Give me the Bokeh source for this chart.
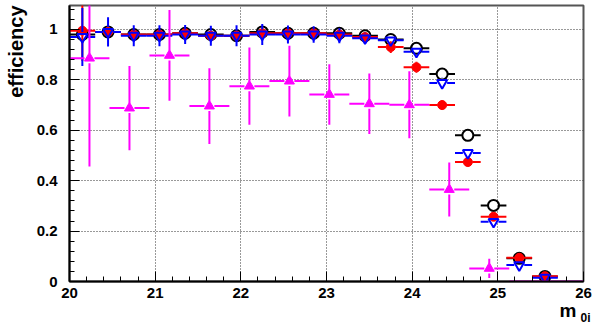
from bokeh.plotting import figure
from bokeh.models import FixedTicker, Range1d, Title
from bokeh.embed import file_html
from bokeh.resources import INLINE

# ---------------- data ----------------
bin_centers = [20.15, 20.45, 20.75, 21.05, 21.35, 21.65, 21.95, 22.25, 22.55, 22.85,
               23.15, 23.45, 23.75, 24.05, 24.35, 24.65, 24.95, 25.25, 25.55]
bin_half = 0.15

black_eff = [0.98, 0.99, 0.98, 0.98, 0.985, 0.98, 0.975, 0.99, 0.985, 0.985,
             0.985, 0.975, 0.96, 0.925, 0.823, 0.58, 0.302, 0.092, 0.02]
black_err = [0.03, 0.015, 0.012, 0.012, 0.012, 0.012, 0.012, 0.012, 0.012, 0.012,
             0.012, 0.012, 0.012, 0.012, 0.015, 0.015, 0.015, 0.01, 0.005]

red_eff = [0.995, 0.99, 0.98, 0.98, 0.985, 0.975, 0.975, 0.985, 0.985, 0.985,
           0.98, 0.97, 0.93, 0.85, 0.70, 0.474, 0.257, 0.094, 0.021]
red_err = [0.12, 0.03, 0.02, 0.02, 0.02, 0.02, 0.02, 0.02, 0.02, 0.02,
           0.02, 0.02, 0.023, 0.022, 0.02, 0.02, 0.015, 0.01, 0.005]

blue_eff = [0.97, 0.99, 0.975, 0.975, 0.98, 0.975, 0.975, 0.98, 0.98, 0.98,
            0.975, 0.965, 0.957, 0.912, 0.788, 0.51, 0.237, 0.065, 0.015]
blue_err = [0.115, 0.058, 0.042, 0.042, 0.038, 0.04, 0.042, 0.042, 0.036, 0.033,
            0.03, 0.022, 0.02, 0.018, 0.02, 0.02, 0.015, 0.01, 0.006]

mag_centers = [20.233, 20.70, 21.167, 21.633, 22.10, 22.567, 23.033, 23.50,
               23.967, 24.433, 24.90, 25.367, 25.833]
mag_half = 0.2333
mag_eff = [0.886, 0.688, 0.897, 0.696, 0.775, 0.795, 0.742, 0.705, 0.701, 0.365, 0.052, 0.0, 0.0]
mag_err = [0.43, 0.167, 0.18, 0.15, 0.153, 0.14, 0.12, 0.12, 0.133, 0.107, 0.038, 0.0, 0.0]

x_ticks = [20, 21, 22, 23, 24, 25, 26]
y_ticks = [0, 0.2, 0.4, 0.6, 0.8, 1.0]
y_tick_labels = ["0", "0.2", "0.4", "0.6", "0.8", "1"]

# ---------------- layout ----------------
W, H = 592, 326
BL, BR, BT, BB = 66, 9, 5, 45
X0, X1 = 20, 26
Y0, Y1 = 0, 1.095
px_x = (W - BL - BR) / (X1 - X0)
px_y = (H - BT - BB) / (Y1 - Y0)

p = figure(width=W, height=H, output_backend="svg", toolbar_location=None,
           x_range=Range1d(X0, X1), y_range=Range1d(Y0, Y1),
           min_border_left=BL, min_border_right=BR, min_border_top=BT, min_border_bottom=BB)
p.background_fill_color = "white"
p.border_fill_color = "white"
p.outline_line_color = "#555555"
p.outline_line_width = 2

FONT = "Liberation Sans"

for ax in (p.xaxis[0], p.yaxis[0]):
    ax.axis_line_color = "black"
    ax.axis_line_width = 2
    ax.major_tick_line_color = "black"
    ax.minor_tick_line_color = "black"
    ax.major_tick_line_width = 1
    ax.minor_tick_line_width = 1
    ax.major_tick_in = 10
    ax.major_tick_out = 0
    ax.minor_tick_in = 5
    ax.minor_tick_out = 0
    ax.major_label_text_font = FONT
    ax.major_label_text_font_style = "bold"
    ax.major_label_text_font_size = "15px"
    ax.major_label_text_color = "black"

p.xaxis.ticker = FixedTicker(ticks=x_ticks,
                             minor_ticks=[X0 + 0.2 * i for i in range(31)])
p.yaxis.ticker = FixedTicker(ticks=y_ticks,
                             minor_ticks=[0.04 * i for i in range(28)])
p.yaxis.major_label_overrides = {t: s for t, s in zip(y_ticks, y_tick_labels)}
p.xaxis.major_label_standoff = 6
p.yaxis.major_label_standoff = 12

for g in (p.xgrid[0], p.ygrid[0]):
    g.grid_line_color = "#333333"
    g.grid_line_dash = "1 2"
    g.grid_line_width = 1


def draw_series(xs, ys, half, errs, color, marker, size, fill, line_w=2):
    gx = (size / 2) / px_x
    gy = (size / 2) / px_y
    x0, y0, x1, y1 = [], [], [], []
    mx, my = [], []
    for x, y, e in zip(xs, ys, errs):
        show = y > 0
        gxx = gx if show else 0
        gyy = gy if show else 0
        x0 += [x - half, x + gxx]
        x1 += [x - gxx, x + half]
        y0 += [y, y]
        y1 += [y, y]
        if e > gyy:
            x0 += [x, x]
            x1 += [x, x]
            y0 += [y + gyy, y - gyy]
            y1 += [y + e, y - e]
        if show:
            mx.append(x)
            my.append(y)
    p.segment(x0=x0, y0=y0, x1=x1, y1=y1, line_color=color, line_width=line_w)
    if fill:
        p.scatter(mx, my, marker=marker, size=size, fill_color=color,
                  line_color=color, line_width=1)
    else:
        p.scatter(mx, my, marker=marker, size=size, fill_alpha=0,
                  line_color=color, line_width=2)


draw_series(bin_centers, black_eff, bin_half, black_err, "black", "circle", 11, False)
draw_series(bin_centers, red_eff, bin_half, red_err, "#ff0000", "circle", 9, True)
draw_series(bin_centers, blue_eff, bin_half, blue_err, "#0000ff", "inverted_triangle", 10, False)
draw_series(mag_centers, mag_eff, mag_half, mag_err, "#ff00ff", "triangle", 10, True)

# ---------------- axis titles ----------------
p.add_layout(Title(text="efficiency", align="right", offset=0, standoff=9,
                   vertical_align="top",
                   text_font=FONT, text_font_style="bold", text_font_size="20px",
                   text_color="black"), "left")
p.add_layout(Title(text="m", align="right", offset=7, standoff=-2,
                   vertical_align="top",
                   text_font=FONT, text_font_style="bold", text_font_size="19px",
                   text_color="black"), "below")
p.add_layout(Title(text="0i", align="right", offset=-7, standoff=-21,
                   vertical_align="top",
                   text_font=FONT, text_font_style="bold", text_font_size="12px",
                   text_color="black"), "below")

open("out.html", "w").write(file_html(p, INLINE))
